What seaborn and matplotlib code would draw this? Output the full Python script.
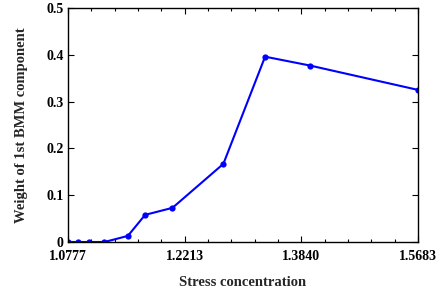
import numpy as np
import pandas as pd
import matplotlib
matplotlib.use("Agg")
import matplotlib.pyplot as plt
import seaborn as sns
from matplotlib.ticker import FixedLocator, NullFormatter

# Values
stress = [1.0777, 1.0892, 1.1024, 1.1206, 1.1491, 1.1706, 1.2054, 1.2730, 1.3312, 1.3970, 1.5683]
weight = [0.0, 0.0, 0.0, 0.0, 0.013, 0.058, 0.073, 0.167, 0.396, 0.377, 0.325]
xtick_values = [1.0777, 1.2213, 1.3840, 1.5683]
xtick_labels = ["1.0777", "1.2213", "1.3840", "1.5683"]
ytick_values = [0, 0.1, 0.2, 0.3, 0.4, 0.5]
ytick_labels = ["0", "0.1", "0.2", "0.3", "0.4", "0.5"]

df = pd.DataFrame({"stress": stress, "weight": weight})

sns.set_theme(style="ticks")
plt.rcParams['font.family'] = ['Liberation Serif', 'DejaVu Serif']
plt.rcParams['font.weight'] = 'bold'

fig = plt.figure(figsize=(4.4, 2.95), dpi=100)
ax = fig.add_axes([68 / 440, 1 - 242 / 295, 350 / 440, 234 / 295])

sns.lineplot(data=df, x="stress", y="weight", ax=ax, color="#0000ff",
             linewidth=1.5, marker="o", markersize=4.5, markeredgewidth=0)

ax.set_xscale("log")
ax.set_xlim(xtick_values[0], xtick_values[-1])
ax.set_ylim(0, 0.5)

ax.xaxis.set_major_locator(FixedLocator(xtick_values))
ax.set_xticklabels(xtick_labels)
minor = []
for a, b in zip(xtick_values[:-1], xtick_values[1:]):
    minor.extend(np.geomspace(a, b, 6)[1:-1])
ax.xaxis.set_minor_locator(FixedLocator(minor))
ax.xaxis.set_minor_formatter(NullFormatter())
ax.set_yticks(ytick_values)
ax.set_yticklabels(ytick_labels)

for s in ax.spines.values():
    s.set_visible(True)
    s.set_color("black")
    s.set_linewidth(1.0)

ax.tick_params(which="both", direction="in", top=True, right=True,
               labelsize=10, colors="black", width=0.8)
ax.tick_params(which="major", length=4)
ax.tick_params(which="minor", length=2.5)
ax.tick_params(axis="x", which="both", pad=6)
ax.tick_params(axis="y", which="both", pad=3)

ax.set_xlabel("Stress concentration", fontsize=10.5, fontweight="bold", labelpad=9)
ax.set_ylabel("Weight of 1st BMM component", fontsize=10.5, fontweight="bold", labelpad=13)

fig.savefig("out.png", dpi=100)
